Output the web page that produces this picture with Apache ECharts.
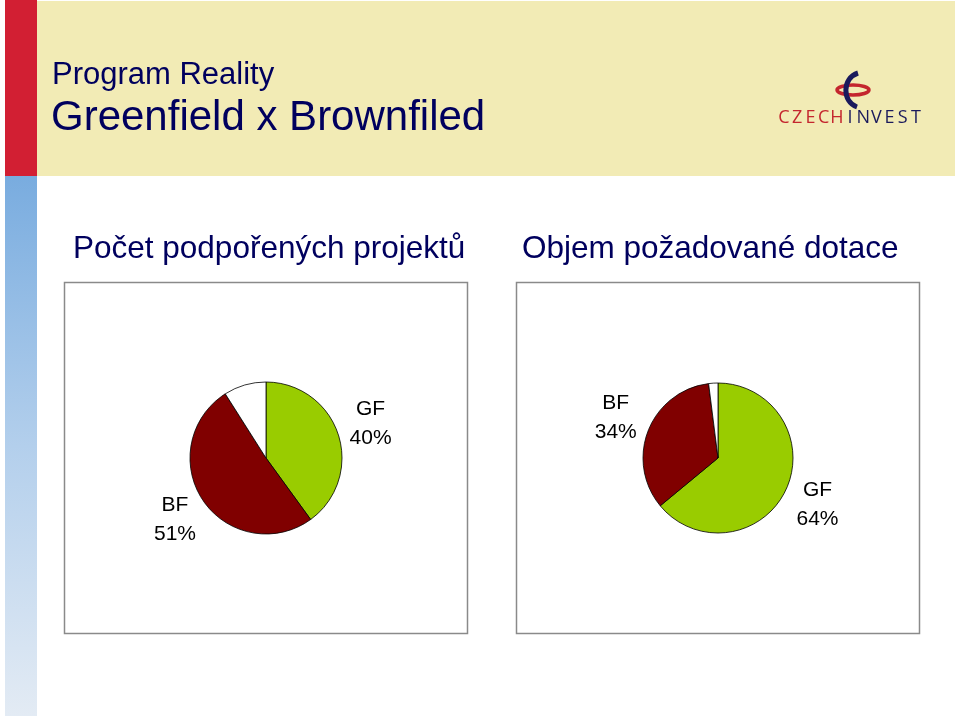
<!DOCTYPE html>
<html>
<head>
<meta charset="utf-8">
<script src="https://cdn.jsdelivr.net/npm/echarts@6/dist/echarts.min.js"></script>
<style>
html,body{margin:0;padding:0;background:#fff;}
#main{width:960px;height:716px;}
</style>
</head>
<body>
<div id="main"></div>
<script>
// ---- data ----
const categories = ['GF', 'BF', 'Ostatní'];
const labelledCategories = ['GF', 'BF'];
const projectShares = [40, 51, 9];   // Počet podpořených projektů (%)
const subsidyShares = [64, 34, 2];   // Objem požadované dotace (%)
const titleLine1 = 'Program Reality';
const titleLine2 = 'Greenfield x Brownfiled';
const chartTitles = ['Počet podpořených projektů', 'Objem požadované dotace'];
const logoRed = 'CZECH';
const logoBlue = 'INVEST';

// ---- styles ----
const sliceColors = ['#99CC00', '#800000', '#FFFFFF'];
const navy = '#00005E';
const font = '"Liberation Sans", Arial, sans-serif';

function makeData(values) {
  return categories.map((c, i) => ({
    name: c,
    value: values[i],
    itemStyle: { color: sliceColors[i] }
  }));
}
function makeGhost(values) {
  return categories.map((c, i) => ({
    name: c,
    value: values[i],
    label: { show: labelledCategories.indexOf(c) >= 0 }
  }));
}

const chart = echarts.init(document.getElementById('main'), null, { renderer: 'canvas' });

// logo letters
const logoLetters = [];
const logoText = logoRed + logoBlue;
for (let i = 0; i < logoText.length; i++) {
  logoLetters.push({
    type: 'text', silent: true,
    style: {
      x: 784 + i * 13.2, y: 118, text: logoText[i],
      fill: i < logoRed.length ? '#C4262E' : '#1A1A5C',
      font: '500 18px "Open Sans", ' + font, align: 'center', verticalAlign: 'middle'
    }
  });
}

const mainSeries = (center, radius, values) => ({
  type: 'pie', center: center, radius: radius, startAngle: 90, clockwise: true,
  silent: true, animation: false,
  label: { show: false }, labelLine: { show: false },
  itemStyle: { borderColor: '#000', borderWidth: 0.8 },
  emphasis: { disabled: true },
  data: makeData(values)
});
const ghostSeries = (center, values) => ({
  type: 'pie', center: center, radius: [93, 121], startAngle: 90, clockwise: true,
  silent: true, animation: false, z: 5,
  itemStyle: { color: 'rgba(0,0,0,0)', borderWidth: 0 },
  label: {
    position: 'inside', formatter: '{b}\n{c}%', color: '#000',
    fontFamily: font, fontSize: 21, lineHeight: 29, align: 'center'
  },
  labelLine: { show: false },
  emphasis: { disabled: true },
  data: makeGhost(values)
});

chart.setOption({
  animation: false,
  graphic: [
    { type: 'rect', silent: true, z: -10, shape: { x: 37, y: 1, width: 918, height: 175 }, style: { fill: '#F2EBB5' } },
    { type: 'rect', silent: true, z: -10, shape: { x: 5, y: 0, width: 32, height: 176 }, style: { fill: '#D21F33' } },
    { type: 'rect', silent: true, z: -10, shape: { x: 5, y: 176, width: 32, height: 540 },
      style: { fill: new echarts.graphic.LinearGradient(0, 0, 0, 1, [
        { offset: 0, color: '#79ACDF' }, { offset: 0.5, color: '#B3CFEC' }, { offset: 1, color: '#E3EBF4' }]) } },
    { type: 'text', silent: true, style: { x: 52, y: 75, text: titleLine1, fill: navy, font: '31px ' + font, verticalAlign: 'middle' } },
    { type: 'text', silent: true, style: { x: 51, y: 118, text: titleLine2, fill: navy, font: '42px ' + font, verticalAlign: 'middle' } },
    { type: 'text', silent: true, style: { x: 73, y: 249, text: chartTitles[0], fill: navy, font: '31.5px ' + font, verticalAlign: 'middle' } },
    { type: 'text', silent: true, style: { x: 522, y: 249, text: chartTitles[1], fill: navy, font: '31.5px ' + font, verticalAlign: 'middle' } },
    { type: 'rect', silent: true, shape: { x: 64.5, y: 282.5, width: 403, height: 351 }, style: { fill: '#fff', stroke: '#8A8A8A', lineWidth: 1.5 }, z: -5 },
    { type: 'rect', silent: true, shape: { x: 516.5, y: 282.5, width: 403, height: 351 }, style: { fill: '#fff', stroke: '#8A8A8A', lineWidth: 1.5 }, z: -5 },
    // logo symbol
    { type: 'ellipse', silent: true, shape: { cx: 853, cy: 90, rx: 16, ry: 5 }, style: { fill: 'none', stroke: '#C4262E', lineWidth: 3.5 } },
    { type: 'bezierCurve', silent: true, shape: { x1: 858, y1: 73, cpx1: 842, cpy1: 78, cpx2: 842, cpy2: 102, x2: 857, y2: 107 }, style: { fill: 'none', stroke: '#1A1A5C', lineWidth: 5 } }
  ].concat(logoLetters),
  series: [
    mainSeries([266, 458], 76, projectShares),
    ghostSeries([266, 458], projectShares),
    mainSeries([718, 458], 75, subsidyShares),
    ghostSeries([718, 458], subsidyShares)
  ]
});
</script>
</body>
</html>
